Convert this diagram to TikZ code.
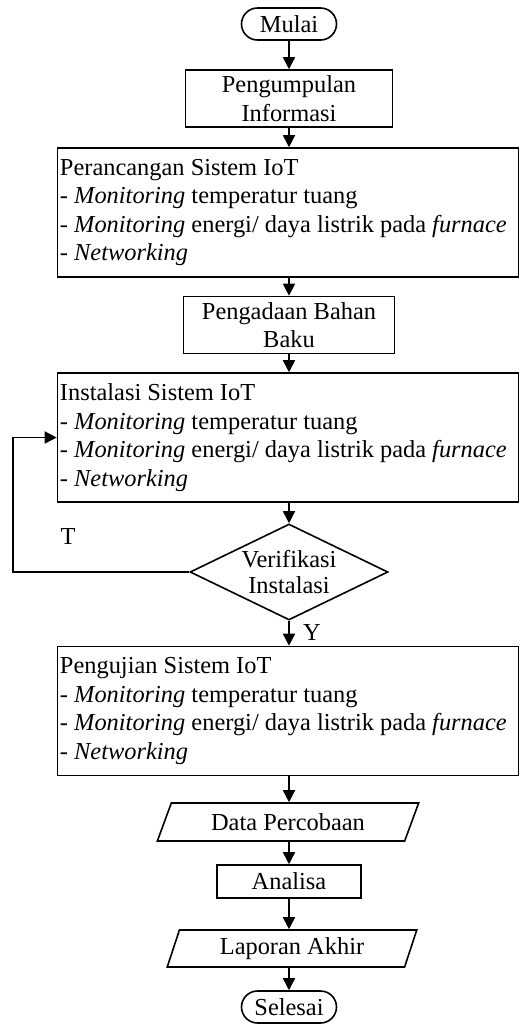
\documentclass[tikz,border=0pt]{standalone}
\usepackage{fontspec}
\setmainfont{Liberation Serif}
\usetikzlibrary{shapes.geometric,arrows.meta}

\begin{document}
\begin{tikzpicture}[x=0.5pt,y=-0.5pt,
  font=\fontsize{12.2}{14.25}\selectfont,
  line width=0.8pt,
  term/.style={draw,rectangle,rounded corners=8pt,minimum width=47.5pt,minimum height=16pt,inner sep=1pt},
  box/.style={draw,align=center,inner sep=1pt},
  bigbox/.style={draw,align=flush left,text width=228pt,inner xsep=1.25pt,minimum height=64.5pt},
  io/.style={draw,trapezium,trapezium stretches=true,inner sep=1pt},
  decision/.style={draw,diamond,aspect=2.06,minimum width=99pt,minimum height=48pt,inner sep=0pt,align=center,
    font=\fontsize{12.2}{13}\selectfont},
  arr/.style={-{Triangle[width=6pt,length=6pt]}}]

\useasboundingbox (0,0) rectangle (520,1030);

\node[term] (mulai) at (289,24) {Mulai};
\node[box,minimum width=103.5pt,minimum height=28.5pt] (info) at (289,98.5) {Pengumpulan\\Informasi};
\node[bigbox] (rancang) at (288,212.5) {Perancangan Sistem IoT\\
  - \textit{Monitoring} temperatur tuang\\
  - \textit{Monitoring} energi/ daya listrik pada \textit{furnace}\\
  - \textit{Networking}};
\node[box,minimum width=105.5pt,minimum height=28.5pt] (bahan) at (289,325) {Pengadaan Bahan\\Baku};
\node[bigbox] (instal) at (288,437.5) {Instalasi Sistem IoT\\
  - \textit{Monitoring} temperatur tuang\\
  - \textit{Monitoring} energi/ daya listrik pada \textit{furnace}\\
  - \textit{Networking}};
\node[decision] (verif) at (289,572) {Verifikasi\\Instalasi};
\node[bigbox] (uji) at (288,711) {Pengujian Sistem IoT\\
  - \textit{Monitoring} temperatur tuang\\
  - \textit{Monitoring} energi/ daya listrik pada \textit{furnace}\\
  - \textit{Networking}};
\node[io,trapezium left angle=66,trapezium right angle=114,minimum width=131pt,minimum height=19pt] (data) at (288,822) {Data Percobaan};
\node[box,minimum width=72pt,minimum height=16.5pt] (analisa) at (289,881.5) {Analisa};
\node[io,trapezium left angle=73,trapezium right angle=107,minimum width=125.5pt,minimum height=18.5pt] (laporan) at (292,948.5) {Laporan Akhir};
\node[term] (selesai) at (289,1007) {Selesai};

\node (t) at (68,537) {T};
\node (y) at (312,633) {Y};

\draw[arr] (mulai) -- (info);
\draw[arr] (info) -- (info |- rancang.north);
\draw[arr] (info |- rancang.south) -- (bahan);
\draw[arr] (bahan) -- (bahan |- instal.north);
\draw[arr] (bahan |- instal.south) -- (verif);
\draw[arr] (verif) -- (verif |- uji.north);
\draw[arr] (verif |- uji.south) -- (verif |- data.north);
\draw[arr] (verif |- data.south) -- (analisa);
\draw[arr] (analisa) -- (analisa |- laporan.north);
\draw[arr] (analisa |- laporan.south) -- (selesai);
\draw[arr] (verif.west) -- ++(-176,0) |- (instal.west);

\end{tikzpicture}
\end{document}
